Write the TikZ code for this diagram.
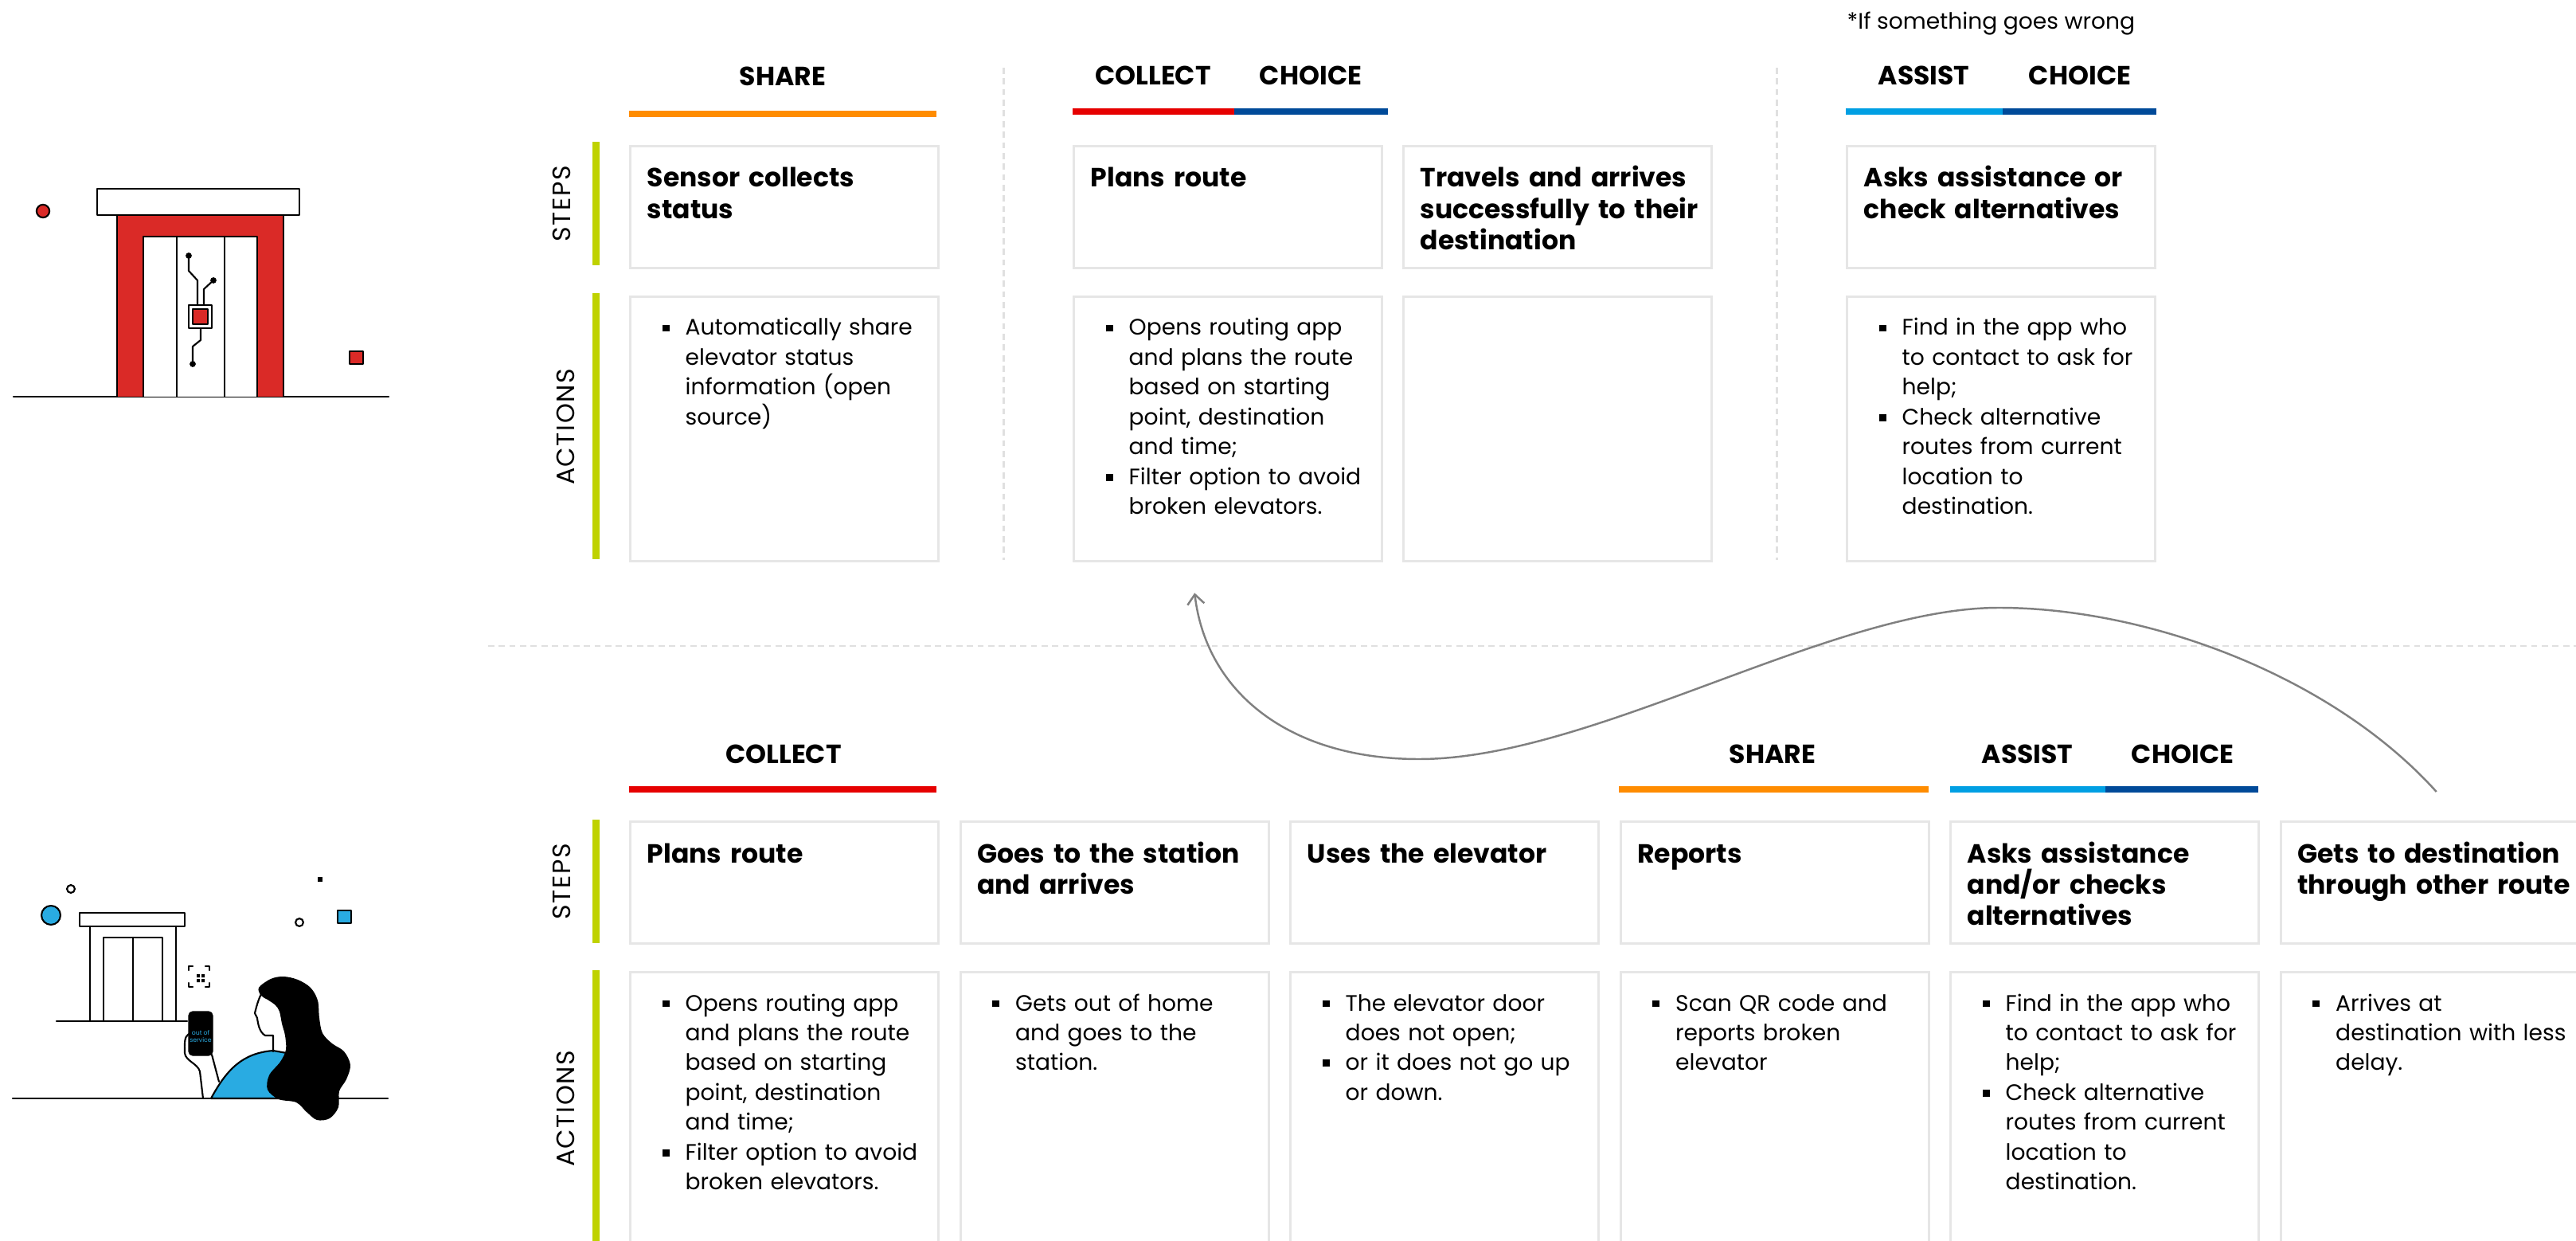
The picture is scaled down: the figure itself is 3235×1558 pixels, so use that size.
\documentclass[tikz,border=0pt]{standalone}
\usepackage{fontspec}
\setmainfont{Poppins}
\newfontfamily\labelfont[LetterSpace=5]{Poppins}
\usetikzlibrary{arrows.meta, calc, positioning}

% phase colours
\definecolor{shareorange}{HTML}{FF8C00}
\definecolor{collectred}{HTML}{E60000}
\definecolor{choiceblue}{HTML}{004A99}
\definecolor{assistblue}{HTML}{009FE3}
\definecolor{stepgreen}{HTML}{BFD200}
\definecolor{boxgray}{HTML}{E6E6E6}
\definecolor{dashgray}{HTML}{E0E0E0}
\definecolor{elevred}{HTML}{DA2A27}
\definecolor{personblue}{HTML}{29ABE2}

% bullet item with hanging indent (use \newline inside, not \\)
\newcommand{\bitem}[1]{\noindent\hangindent=0.29cm\hangafter=1%
  \makebox[0.29cm][l]{\raisebox{1.3pt}{\rule{2.5pt}{2.5pt}}}#1\par}

\begin{document}
\begin{tikzpicture}[
    x=0.01cm, y=-0.01cm, % one unit = one pixel of the layout grid, y pointing down
    >={Straight Barb[length=3.5pt, width=6pt]},
    stepbox/.style={draw=boxgray, line width=0.9pt, anchor=north west,
        minimum width=3.87cm, minimum height=1.53cm, inner sep=0pt},
    actbox/.style={stepbox, minimum height=3.32cm},
    steptext/.style={anchor=base west, text width=3.8cm, align=left, inner sep=0pt,
        font=\bfseries\fontsize{9.4}{11.2}\selectfont},
    acttext/.style={anchor=base west, text width=3.6cm, align=left, inner sep=0pt,
        font=\fontsize{8}{10.64}\selectfont},
    phase/.style={anchor=base, inner sep=0pt, font=\bfseries\fontsize{9.4}{11}\selectfont},
    rowlabel/.style={rotate=90, inner sep=0pt, font=\labelfont\fontsize{9}{10}\selectfont},
    sketch/.style={line width=0.6pt, line join=round, line cap=round},
    sep/.style={dashgray, line width=0.85pt, dash pattern=on 2.2pt off 1.6pt},
]

    \useasboundingbox (0,0) rectangle (3235,1558);
    \clip (0,0) rectangle (3235,1558);

    % === 1. ELEVATOR WITH SENSOR (top left) ===
    \draw[sketch] (17,498) -- (488,498);
    \filldraw[sketch, fill=elevred] (147,498) -- (147,270) -- (356,270) -- (356,498);
    \filldraw[sketch, fill=white] (180,498) -- (180,297) -- (323,297) -- (323,498);
    \draw[sketch] (222,297) -- (222,498) (282,297) -- (282,498);
    \filldraw[sketch, fill=white] (122,237) rectangle (376,270);
    % circuit on the door
    \draw[sketch] (237,321) -- (237,340) -- (248,352) -- (248,383);
    \draw[sketch] (268,352) -- (256,363) -- (256,383);
    \draw[sketch] (252,412) -- (252,427) -- (242,435) -- (242,457);
    \filldraw[sketch, fill=white] (237,383) rectangle (266,412);
    \filldraw[sketch, fill=elevred] (242,388) rectangle (261,407);
    \fill (237,321) circle[radius=1.1pt] (268,352) circle[radius=1.1pt] (242,457) circle[radius=1.1pt];
    \filldraw[sketch, fill=elevred] (54,265) circle[radius=2.3pt];
    \filldraw[sketch, fill=elevred] (439,441) rectangle (456,457);

    % === 2. PERSON WITH PHONE (bottom left) ===
    \draw[sketch] (16,1379) -- (487,1379);
    \filldraw[sketch, fill=white] (100,1146) rectangle (232,1163);
    \draw[sketch] (113,1163) -- (113,1282) (221,1163) -- (221,1282);
    \draw[sketch] (130,1282) -- (130,1177) -- (204,1177) -- (204,1282) (167,1177) -- (167,1282);
    \draw[sketch] (71,1282) -- (235,1282);
    \filldraw[sketch, fill=personblue] (64,1149) circle[radius=3.4pt];
    \draw[sketch] (89,1116) circle[radius=1.4pt] (376,1158) circle[radius=1.4pt];
    \fill (399,1101) rectangle (405,1107);
    \filldraw[sketch, fill=personblue] (424,1143) rectangle (441,1159);
    % scan frame
    \draw[sketch] (237,1218) |- (242,1213) (258,1213) -| (263,1218)
        (263,1234) |- (258,1239) (242,1239) -| (237,1234);
    \fill (247,1223) rectangle (251,1227) (253,1223) rectangle (257,1227)
        (247,1229) rectangle (251,1233) (253,1229) rectangle (257,1233);
    % body, arm and phone
    \filldraw[sketch, fill=personblue] (265,1379) .. controls (285,1342) and (305,1322) .. (343,1319)
        -- (360,1322) -- (352,1379) -- cycle;
    \draw[sketch] (237,1298) .. controls (231,1302) and (232,1310) .. (232,1322)
        .. controls (233,1332) and (248,1335) .. (251,1345) -- (255,1379);
    \draw[sketch] (266,1324) -- (275,1358);
    \filldraw[rounded corners=1.5pt] (237,1270) rectangle (267,1325);
    \node[font=\fontsize{2.2}{2.6}\selectfont, text=personblue, align=center, inner sep=0pt]
        (phonetxt) at (252,1301) {out of\\service};
    % face profile and neck
    \draw[sketch] (328,1248) .. controls (324,1256) and (322,1264) .. (320,1272)
        -- (323,1278) .. controls (324,1286) and (326,1296) .. (333,1300) -- (343,1300) -- (343,1320);
    % hair
    \fill plot[smooth cycle, tension=0.55] coordinates {
        (325,1240) (340,1229) (356,1226) (374,1230) (390,1240) (399,1256) (401,1278)
        (405,1297) (417,1310) (432,1320) (440,1337) (435,1355) (426,1370) (425,1390)
        (414,1404) (398,1406) (385,1396) (372,1384) (350,1380) (336,1368) (338,1350)
        (352,1333) (359,1318) (358,1300) (354,1285) (351,1270) (346,1262) (336,1255) (328,1250)};

    % === 3. SEPARATORS ===
    \draw[sep] (1260,85) -- (1260,703);
    \draw[sep] (2231,85) -- (2231,703);
    \draw[sep] (613,811) -- (3235,811);

    % === 4. TOP JOURNEY (sensor) ===
    \node[anchor=base west, inner sep=0pt, font=\fontsize{8}{10}\selectfont]
        (note) at (2319,37) {*If something goes wrong};

    \node[phase] (hShare) at (983,108) {SHARE};
    \node[phase] (hCollect) at (1448,107) {COLLECT};
    \node[phase] (hChoice) at (1646,107) {CHOICE};
    \node[phase] (hAssist) at (2416,107) {ASSIST};
    \node[phase] (hChoiceB) at (2612,107) {CHOICE};
    \fill[shareorange] (790,139) rectangle (1176,147);
    \fill[collectred] (1347,136) rectangle (1550,144);
    \fill[choiceblue] (1550,136) rectangle (1743,144);
    \fill[assistblue] (2318,136) rectangle (2515,144);
    \fill[choiceblue] (2515,136) rectangle (2708,144);

    \fill[stepgreen] (744,178) rectangle (753,333);
    \fill[stepgreen] (744,368) rectangle (753,702);
    \node[rowlabel] (lStepsT) at (705,256) {STEPS};
    \node[rowlabel] (lActT) at (710,536) {ACTIONS};

    \node[stepbox] (sA) at (790,182) {};
    \node[actbox] (aA) at (790,371) {};
    \node[stepbox] (sB) at (1347,182) {};
    \node[actbox] (aB) at (1347,371) {};
    \node[stepbox] (sC) at (1761,182) {};
    \node[actbox] (aC) at (1761,371) {};
    \node[stepbox] (sD) at (2318,182) {};
    \node[actbox] (aD) at (2318,371) {};

    \node[steptext] at ([shift={(22,53)}]sA.north west) {Sensor collects\\status};
    \node[steptext] at ([shift={(22,53)}]sB.north west) {Plans route};
    \node[steptext] at ([shift={(22,53)}]sC.north west) {Travels and arrives\\successfully to their\\destination};
    \node[steptext] at ([shift={(22,53)}]sD.north west) {Asks assistance or\\check alternatives};

    \node[acttext] at ([shift={(41,50)}]aA.north west)
        {\bitem{Automatically share\newline elevator status\newline information (open\newline source)}};
    \node[acttext] at ([shift={(41,50)}]aB.north west)
        {\bitem{Opens routing app\newline and plans the route\newline based on starting\newline point, destination\newline and time;}%
         \bitem{Filter option to avoid\newline broken elevators.}};
    \node[acttext] at ([shift={(41,50)}]aD.north west)
        {\bitem{Find in the app who\newline to contact to ask for\newline help;}%
         \bitem{Check alternative\newline routes from current\newline location to\newline destination.}};

    % === 5. BOTTOM JOURNEY (person) ===
    \node[phase] (hCollectP) at (984,958) {COLLECT};
    \node[phase] (hShareP) at (2226,958) {SHARE};
    \node[phase] (hAssistP) at (2546,958) {ASSIST};
    \node[phase] (hChoiceP) at (2741,958) {CHOICE};
    \fill[collectred] (790,987) rectangle (1176,995);
    \fill[shareorange] (2033,987) rectangle (2422,995);
    \fill[assistblue] (2449,987) rectangle (2644,995);
    \fill[choiceblue] (2644,987) rectangle (2836,995);

    \fill[stepgreen] (744,1029) rectangle (753,1184);
    \fill[stepgreen] (744,1218) rectangle (753,1570);
    \node[rowlabel] (lStepsB) at (705,1107) {STEPS};
    \node[rowlabel] (lActB) at (710,1392) {ACTIONS};

    \foreach \i in {1,...,6} {
        \node[stepbox] (s\i) at ({790+414.5*(\i-1)},1030) {};
        \node[actbox, minimum height=3.6cm] (a\i) at ({790+414.5*(\i-1)},1219) {};
    }

    \node[steptext] at ([shift={(22,53)}]s1.north west) {Plans route};
    \node[steptext] at ([shift={(22,53)}]s2.north west) {Goes to the station\\and arrives};
    \node[steptext] at ([shift={(22,53)}]s3.north west) {Uses the elevator};
    \node[steptext] at ([shift={(22,53)}]s4.north west) {Reports};
    \node[steptext] at ([shift={(22,53)}]s5.north west) {Asks assistance\\and/or checks\\alternatives};
    \node[steptext] at ([shift={(22,53)}]s6.north west) {Gets to destination\\through other route};

    \node[acttext] at ([shift={(41,50)}]a1.north west)
        {\bitem{Opens routing app\newline and plans the route\newline based on starting\newline point, destination\newline and time;}%
         \bitem{Filter option to avoid\newline broken elevators.}};
    \node[acttext] at ([shift={(41,50)}]a2.north west)
        {\bitem{Gets out of home\newline and goes to the\newline station.}};
    \node[acttext] at ([shift={(41,50)}]a3.north west)
        {\bitem{The elevator door\newline does not open;}%
         \bitem{or it does not go up\newline or down.}};
    \node[acttext] at ([shift={(41,50)}]a4.north west)
        {\bitem{Scan QR code and\newline reports broken\newline elevator}};
    \node[acttext] at ([shift={(41,50)}]a5.north west)
        {\bitem{Find in the app who\newline to contact to ask for\newline help;}%
         \bitem{Check alternative\newline routes from current\newline location to\newline destination.}};
    \node[acttext] at ([shift={(41,50)}]a6.north west)
        {\bitem{Arrives at\newline destination with less\newline delay.}};

    % === 6. LOOP BACK TO PLANNING ===
    \draw[->, gray, line width=0.7pt]
        ([shift={(2,-36)}]s6.north) .. controls (2930,850) and (2700,763) .. (2510,763)
        .. controls (2300,763) and (2000,953) .. (1782,953)
        .. controls (1620,953) and (1515,870) .. ([shift={(-42,38)}]aB.south);

\end{tikzpicture}
\end{document}
